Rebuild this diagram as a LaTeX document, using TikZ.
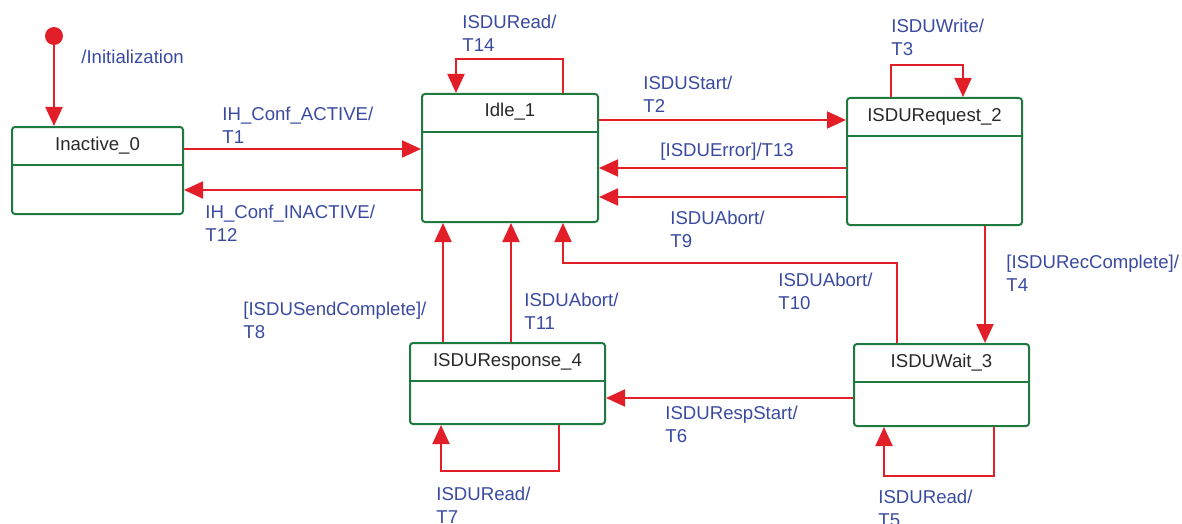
\documentclass[tikz,border=0pt]{standalone}
\usepackage{fontspec}
\setmainfont{Liberation Sans}
\usepackage{xcolor}
\usetikzlibrary{arrows.meta, positioning, calc}
\definecolor{arrred}{RGB}{226,30,40}
\definecolor{stgreen}{RGB}{30,122,62}
\definecolor{lblblue}{RGB}{58,74,160}
\definecolor{sttext}{RGB}{40,40,40}

\begin{document}
\begin{tikzpicture}[
  x=0.5pt, y=-0.5pt,
  font=\fontsize{9.3}{11.5}\selectfont,
  statebox/.style={draw=stgreen, line width=1pt, rounded corners=1.5pt,
              anchor=north west, inner sep=0pt,
              path picture={\draw[stgreen, line width=1pt]
                ([yshift=-18.75pt]path picture bounding box.north west) --
                ([yshift=-18.75pt]path picture bounding box.north east);}},
  sttitle/.style={text=sttext, anchor=base, yshift=-12pt},
  arr/.style={-{Triangle[length=9.5pt, width=8.5pt]}, arrred, line width=1pt},
  lbl/.style={text=lblblue, anchor=north west, align=left, inner sep=0pt},
  initdot/.style={circle, fill=arrred, inner sep=0pt, minimum size=9pt}
]
  \useasboundingbox (0,0) rectangle (1182,524);

  % States
  \node[statebox, minimum width=85.5pt, minimum height=43.5pt,
        label={[sttitle]north:Inactive\_0}] (inactive) at (11,126) {};
  \node[statebox, minimum width=88pt, minimum height=64pt,
        label={[sttitle]north:Idle\_1}] (idle) at (421,93) {};
  \node[statebox, minimum width=87.5pt, minimum height=63.5pt,
        label={[sttitle]north:ISDURequest\_2}] (request) at (846,97) {};
  \node[statebox, minimum width=87.5pt, minimum height=41pt,
        label={[sttitle]north:ISDUWait\_3}] (wait) at (853,343) {};
  \node[statebox, minimum width=97.5pt, minimum height=40.5pt,
        label={[sttitle]north:ISDUResponse\_4}] (response) at (409,342) {};

  % Initial state
  \node[initdot] (init) at (54,36) {};
  \draw[arr] (init) -- (init |- inactive.north);

  % Inactive <-> Idle
  \draw[arr] ($(inactive.north east)+(0,23)$) coordinate (t1) -- (t1 -| idle.west);
  \draw[arr] ($(idle.north west)+(0,97)$) coordinate (t12) -- (t12 -| inactive.east);

  % Idle self loop
  \draw[arr] ($(idle.north west)+(142,0)$) -- ++(0,-34) -| ($(idle.north west)+(35,0)$);

  % Idle <-> Request
  \draw[arr] ($(idle.north east)+(0,27)$) coordinate (t2) -- (t2 -| request.west);
  \draw[arr] ($(request.north west)+(0,71)$) coordinate (t13) -- (t13 -| idle.east);
  \draw[arr] ($(request.north west)+(0,100)$) coordinate (t9) -- (t9 -| idle.east);

  % Request self loop
  \draw[arr] ($(request.north west)+(45,0)$) -- ++(0,-32) -| ($(request.north west)+(117,0)$);

  % Request -> Wait
  \draw[arr] ($(request.south west)+(139,0)$) coordinate (t4) -- (t4 |- wait.north);

  % Wait self loop
  \draw[arr] ($(wait.south west)+(141,0)$) -- ++(0,49) -| ($(wait.south west)+(31,0)$);

  % Wait -> Response, Wait -> Idle
  \draw[arr] ($(wait.north west)+(0,55)$) coordinate (t6) -- (t6 -| response.east);
  \draw[arr] ($(wait.north west)+(44,0)$) -- ++(0,-80) -| ($(idle.south west)+(142,0)$);

  % Response self loop
  \draw[arr] ($(response.south west)+(150,0)$) -- ++(0,46) -| ($(response.south west)+(32,0)$);

  % Response -> Idle
  \draw[arr] ($(response.north west)+(34,0)$) coordinate (t8) -- (t8 |- idle.south);
  \draw[arr] ($(response.north west)+(102,0)$) coordinate (t11) -- (t11 |- idle.south);

  % Transition labels
  \node[lbl] (linit) at (81,50)  {/Initialization};
  \node[lbl] (lt1)   at (222,107) {IH\_Conf\_ACTIVE/\\T1};
  \node[lbl] (lt12)  at (205,205) {IH\_Conf\_INACTIVE/\\T12};
  \node[lbl] (lt14)  at (462,15)  {ISDURead/\\T14};
  \node[lbl] (lt2)   at (643,76)  {ISDUStart/\\T2};
  \node[lbl] (lt13)  at (660,143) {[ISDUError]/T13};
  \node[lbl] (lt9)   at (670,211) {ISDUAbort/\\T9};
  \node[lbl] (lt3)   at (891,19)  {ISDUWrite/\\T3};
  \node[lbl] (lt4)   at (1006,255) {[ISDURecComplete]/\\T4};
  \node[lbl] (lt10)  at (778,273) {ISDUAbort/\\T10};
  \node[lbl] (lt8)   at (243,302) {[ISDUSendComplete]/\\T8};
  \node[lbl] (lt11)  at (524,293) {ISDUAbort/\\T11};
  \node[lbl] (lt6)   at (665,406) {ISDURespStart/\\T6};
  \node[lbl] (lt7)   at (436,487) {ISDURead/\\T7};
  \node[lbl] (lt5)   at (878,490) {ISDURead/\\T5};

\end{tikzpicture}
\end{document}
